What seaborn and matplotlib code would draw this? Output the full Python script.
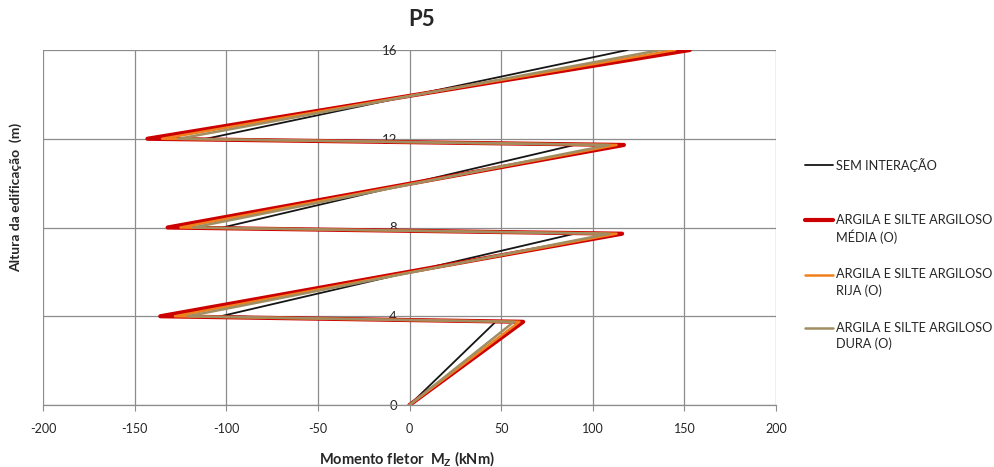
import numpy as np
import pandas as pd
import matplotlib
matplotlib.use("Agg")
import matplotlib.pyplot as plt
from matplotlib.lines import Line2D
import seaborn as sns

# building height (m) at each point of the moment diagram
altura = [0, 3.75, 4.0, 7.72, 8.0, 11.72, 12.0, 16.0]

# bending moment Mz (kNm) for each case
sem_interacao = [0, 47, -103, 90, -102, 90, -111, 119]
argila_media = [0, 62, -136, 116, -132, 117, -143, 153]
argila_rija = [0, 60, -128, 113, -125, 113, -135, 145]
argila_dura = [0, 57, -121, 109, -118, 109, -126, 137]

series = ["SEM INTERAÇÃO",
          "ARGILA E SILTE ARGILOSO\nMÉDIA (O)",
          "ARGILA E SILTE ARGILOSO\nRIJA (O)",
          "ARGILA E SILTE ARGILOSO\nDURA (O)"]
valores = [sem_interacao, argila_media, argila_rija, argila_dura]
cores = ["#151515", "#cc0000", "#f0801e", "#a08e62"]
larguras = [1.3, 3.0, 1.8, 1.8]

sns.set_style("white")
plt.rcParams["font.family"] = ["Lato", "DejaVu Sans"]
plt.rcParams["mathtext.fontset"] = "custom"
plt.rcParams["mathtext.rm"] = "Lato"
plt.rcParams["mathtext.bf"] = "Lato:bold"
plt.rcParams["axes.unicode_minus"] = False

W, H = 994, 467
fig = plt.figure(figsize=(W / 100, H / 100), dpi=100)
ax = fig.add_axes([43 / W, 1 - 405 / H, (776 - 43) / W, (405 - 50) / H])

for nome, x, cor, lw in zip(series, valores, cores, larguras):
    df = pd.DataFrame({"M": x, "h": altura})
    sns.lineplot(data=df, x="M", y="h", sort=False, estimator=None,
                 color=cor, linewidth=lw, ax=ax, solid_joinstyle="round",
                 solid_capstyle="round")

ax.set_xlim(-200, 200)
ax.set_ylim(0, 16)
ax.set_xticks(np.arange(-200, 201, 50))
ax.set_yticks(np.arange(0, 17, 4))
ax.grid(True, color="#8c8c8c", linewidth=0.9)
ax.set_axisbelow(True)

for s in ["top", "right"]:
    ax.spines[s].set_visible(False)
ax.spines["left"].set_position(("data", 0))
ax.spines["left"].set_visible(False)
ax.spines["bottom"].set_color("#8c8c8c")
ax.spines["bottom"].set_linewidth(0.9)

ax.tick_params(axis="x", direction="out", length=4, color="#8c8c8c",
               pad=9, labelsize=9, bottom=True)
ax.tick_params(axis="y", length=0, pad=9, labelsize=9.5, left=True)

ax.set_xlabel(r"Momento fletor  $\mathbf{M_Z}$ (kNm)", fontsize=10.5,
              fontweight="bold")
ax.xaxis.set_label_coords((407 - 43) / 733, -(449 - 405) / 355)
ax.set_ylabel("Altura da edificação  (m)", fontsize=10, fontweight="bold")
ax.yaxis.set_label_coords((22 - 43) / 733, (405 - 197) / 355)

fig.text(422 / W, 1 - 19 / H, "P5", ha="center", va="center",
         fontsize=16, fontweight="bold")

# legend drawn at the right, handle on the first text line
leg_y = [165, 220, 275, 328]
for nome, cor, lw, y in zip(series, cores, larguras, leg_y):
    fig.add_artist(Line2D([805 / W, 833 / W], [1 - y / H, 1 - y / H],
                          color=cor, linewidth=lw, transform=fig.transFigure))
    fig.text(836 / W, 1 - (y - 6.5) / H, nome, ha="left", va="top",
             fontsize=9.2, linespacing=1.35)

fig.savefig("out.png", dpi=100)
